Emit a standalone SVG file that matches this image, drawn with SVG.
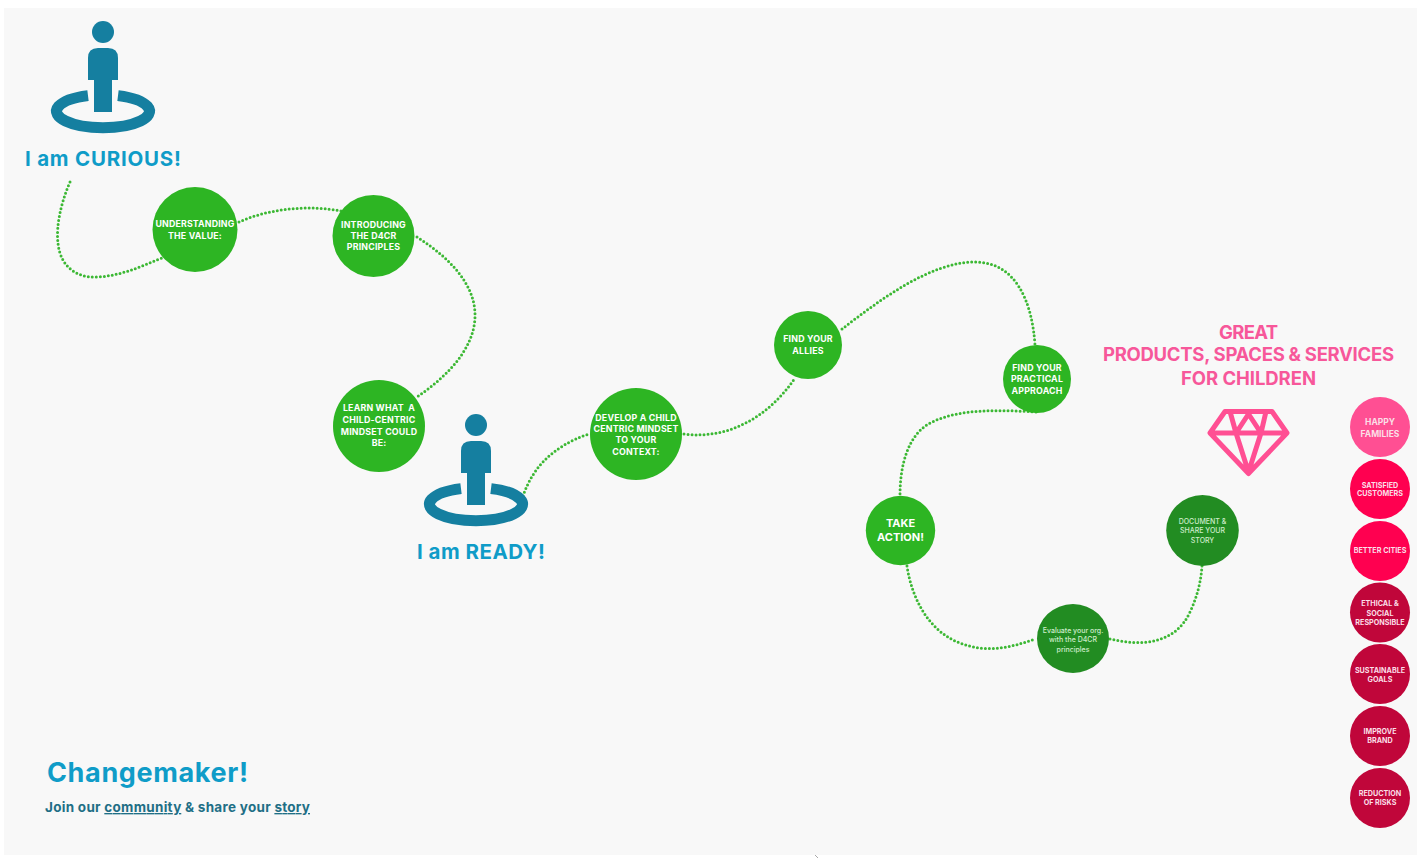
<svg xmlns="http://www.w3.org/2000/svg" width="1417" height="858" viewBox="0 0 1417 858">
<style>
text{font-family:"Inter","Liberation Sans",sans-serif;font-weight:700;text-anchor:middle}
.l{fill:#fff;font-size:8.8px;letter-spacing:.2px}
.s{fill:#fbdfe7;font-size:7.2px}
.t{fill:#cfeccb;font-size:7px;font-weight:500}
.h{fill:#0f9cc8;font-size:20.5px}
.p{fill:#f7579a;font-size:18.5px}
.c{fill:#2db523}
.d{fill:#228c22}
.m{fill:#c0063a}
.r{fill:#ff0050}
#connectors path{fill:none;stroke:#3cb834;stroke-width:3;stroke-linecap:round;stroke-dasharray:0 4}
.w{fill:#fff}
</style>
<defs>
<g id="person">
<circle cx="103" cy="32" r="11" fill="#157fa0"/>
<path d="M88 80V58Q88 48 98 48H108Q118 48 118 58V80H112V112H94V80Z" fill="#157fa0"/>
<path d="M88 95.600A46.500 16.500 0 1 0 118 95.600" fill="none" stroke="#157fa0" stroke-width="11"/>
</g>
</defs>
<rect width="1417" height="858" fill="#fff"/>
<rect x="4" y="8" width="1413" height="847" fill="#f8f8f8"/>
<path d="M815 855l3 3" stroke="#aaa" stroke-width="1" fill="none"/>

<g id="connectors">
<path d="M70 182C60 205 56 228 58 243C60 265 75 278 97 277C120 276 140 267 162 258"/>
<path d="M239 222C270 208 310 205 341 211"/>
<path d="M417 237C450 258 476 285 475 317C474 350 445 378 417 397"/>
<path d="M523 496C532 470 550 447 589 434"/>
<path d="M684 434C730 440 770 415 795 378"/>
<path d="M842 329C880 300 930 262 975 262C1015 262 1032 300 1035 345"/>
<path d="M1036 412C1000 410 960 408 930 423C908 435 900 465 900 495"/>
<path d="M907 566C912 600 930 632 960 643C985 653 1010 648 1035 639"/>
<path d="M1110 639C1140 646 1175 645 1190 612C1198 595 1201 580 1202 566"/>
</g>

<g id="curious"><use href="#person"/><text class="h" x="103" y="166" textLength="156">I am CURIOUS!</text></g>
<g id="ready"><use href="#person" x="373" y="393"/><text class="h" x="481" y="559" textLength="128">I am READY!</text></g>

<g id="n-understanding"><circle class="c" cx="195" cy="229.500" r="42.500"/><text class="l" x="195" y="227" textLength="79">UNDERSTANDING</text><text class="l" x="195" y="238.500">THE VALUE:</text></g>
<g id="n-introducing"><circle class="c" cx="373.500" cy="236" r="41"/><text class="l" x="373.500" y="227.500">INTRODUCING</text><text class="l" x="373.500" y="238.500">THE D4CR</text><text class="l" x="373.500" y="250">PRINCIPLES</text></g>
<g id="n-learn"><circle class="c" cx="379" cy="426" r="46"/><text class="l" x="379" y="411" xml:space="preserve">LEARN WHAT  A</text><text class="l" x="379" y="423">CHILD-CENTRIC</text><text class="l" x="379" y="435">MINDSET COULD</text><text class="l" x="379" y="446">BE:</text></g>
<g id="n-develop"><circle class="c" cx="636" cy="434" r="46"/><text class="l" x="636" y="420.500">DEVELOP A CHILD</text><text class="l" x="636" y="431.500">CENTRIC MINDSET</text><text class="l" x="636" y="443">TO YOUR</text><text class="l" x="636" y="455">CONTEXT:</text></g>
<g id="n-allies"><circle class="c" cx="808" cy="345" r="34"/><text class="l" x="808" y="342">FIND YOUR</text><text class="l" x="808" y="354">ALLIES</text></g>
<g id="n-practical"><circle class="c" cx="1037" cy="379" r="34"/><text class="l" x="1037" y="370.500">FIND YOUR</text><text class="l" x="1037" y="381.500">PRACTICAL</text><text class="l" x="1037" y="393.500">APPROACH</text></g>
<g id="n-action"><circle class="c" cx="900.500" cy="530.500" r="34.700"/><text class="w" x="900.500" y="527" font-size="11">TAKE</text><text class="w" x="900.500" y="541" font-size="11">ACTION!</text></g>
<g id="n-evaluate"><ellipse class="d" cx="1073" cy="638.500" rx="36" ry="34.500"/><text class="t" x="1073" y="632.500">Evaluate your org.</text><text class="t" x="1073" y="642">with the D4CR</text><text class="t" x="1073" y="651.500">principles</text></g>
<g id="n-document"><ellipse class="d" cx="1202.500" cy="530.500" rx="36.300" ry="35.500"/><text class="t" x="1202.500" y="523.500">DOCUMENT &amp;</text><text class="t" x="1202.500" y="533">SHARE YOUR</text><text class="t" x="1202.500" y="542.500">STORY</text></g>

<g id="great"><text class="p" x="1248.500" y="338.500" textLength="59">GREAT</text><text class="p" x="1248.500" y="361" textLength="291">PRODUCTS, SPACES &amp; SERVICES</text><text class="p" x="1248.500" y="385" textLength="135">FOR CHILDREN</text></g>
<g id="gem" fill="none" stroke="#ff4f93" stroke-width="5" stroke-linejoin="round"><path d="M1225 411.500H1272L1287 433L1248.500 473.500L1210 433ZM1210 433H1287M1230 411.500L1236 433L1248.500 472L1261 433L1266 411.500M1236 433L1248.500 414L1261 433"/></g>

<g id="o-happy"><circle cx="1380" cy="427" r="30" fill="#ff4f93"/><text class="s" style="font-size:8.500px" x="1380" y="424.500">HAPPY</text><text class="s" style="font-size:8.500px" x="1380" y="436.500">FAMILIES</text></g>
<g id="o-satisfied"><circle class="r" cx="1380" cy="489" r="30"/><text class="s" x="1380" y="487.500">SATISFIED</text><text class="s" x="1380" y="496">CUSTOMERS</text></g>
<g id="o-cities"><circle class="r" cx="1380" cy="551" r="30"/><text class="s" x="1380" y="553">BETTER CITIES</text></g>
<g id="o-ethical"><circle class="m" cx="1380" cy="612.500" r="30"/><text class="s" x="1380" y="606">ETHICAL &amp;</text><text class="s" x="1380" y="615.500">SOCIAL</text><text class="s" x="1380" y="625">RESPONSIBLE</text></g>
<g id="o-goals"><circle class="m" cx="1380" cy="674" r="30"/><text class="s" x="1380" y="672.500">SUSTAINABLE</text><text class="s" x="1380" y="682">GOALS</text></g>
<g id="o-brand"><circle class="m" cx="1380" cy="736" r="30"/><text class="s" x="1380" y="734">IMPROVE</text><text class="s" x="1380" y="743">BRAND</text></g>
<g id="o-risks"><circle class="m" cx="1380" cy="798" r="30"/><text class="s" x="1380" y="795.500">REDUCTION</text><text class="s" x="1380" y="805">OF RISKS</text></g>

<g id="changemaker"><text x="147.500" y="782" fill="#0f9cc8" font-size="27" textLength="201">Changemaker!</text>
<text x="177.500" y="812" fill="#1f6f86" font-size="13.500" textLength="265">Join our <tspan text-decoration="underline">community</tspan> &amp; share your <tspan text-decoration="underline">story</tspan></text></g>
</svg>
